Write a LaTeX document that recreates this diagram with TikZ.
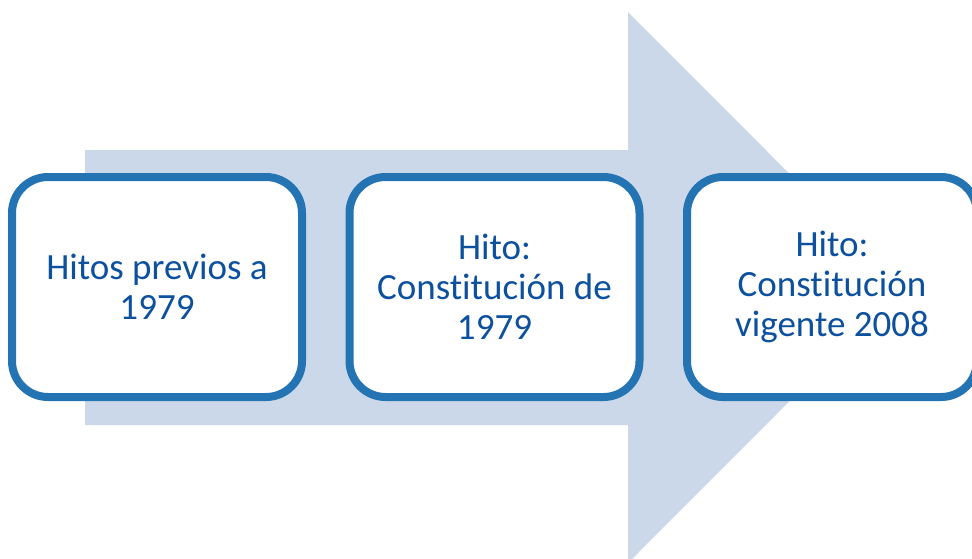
\documentclass[tikz,border=0pt]{standalone}
\usepackage{fontspec}
\setmainfont{Carlito}[Ligatures={NoCommon,NoRare,NoContextual},Contextuals=NoAlternate]
\definecolor{arrowfill}{RGB}{203,216,234}
\definecolor{boxborder}{RGB}{36,115,178}
\definecolor{boxtext}{RGB}{12,80,158}
\tikzset{
  milestone/.style={draw=boxborder, line width=8pt, fill=white, rounded corners=36pt,
    minimum width=290pt, minimum height=220pt, align=center, text=boxtext,
    font=\fontsize{37}{40}\selectfont, inner sep=0pt},
  bigarrow/.style={fill=arrowfill, draw=none}
}
\begin{document}
\begin{tikzpicture}[x=1pt,y=-1pt]
\useasboundingbox (0,0) rectangle (972,558);
\fill[white] (0,0) rectangle (972,558);
\fill[bigarrow] (85,150) -- (628,150) -- (628,12) -- (903,287.5) -- (628,563) -- (628,425) -- (85,425) -- cycle;
\node[milestone] (h1) at (157,287) {Hitos previos a\\1979};
\node[milestone] (h2) at (494.5,287) {Hito:\\Const\kern0pt itución de\\1979};
\node[milestone] (h3) at (832,287) {Hito:\\Const\kern0pt itución\\vigente 2008};
\end{tikzpicture}
\end{document}
